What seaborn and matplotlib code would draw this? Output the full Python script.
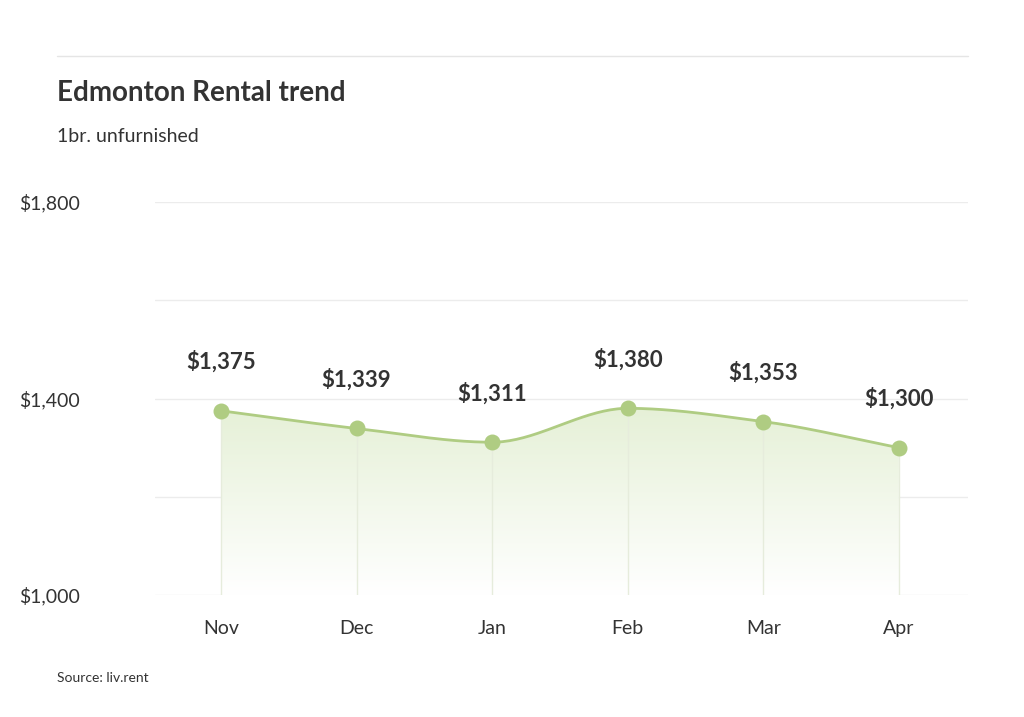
import numpy as np
import matplotlib
matplotlib.use("Agg")
import matplotlib.pyplot as plt
import seaborn as sns
from matplotlib.colors import LinearSegmentedColormap

months = ["Nov", "Dec", "Jan", "Feb", "Mar", "Apr"]
rents = [1375, 1339, 1311, 1380, 1353, 1300]
yticks = [1000, 1400, 1800]
ytick_labels = ["$1,000", "$1,400", "$1,800"]

sns.set_style("white")
plt.rcParams["font.family"] = ["Lato", "Open Sans", "DejaVu Sans"]
fig = plt.figure(figsize=(10.24, 7.17), dpi=100)
ax = fig.add_axes([155/1024, 1-595/717, 813/1024, 393/717])

x = np.arange(len(months), dtype=float)
y = np.array(rents, dtype=float)

# monotone cubic (Fritsch-Carlson) smoothing for the curve
d = np.diff(y) / np.diff(x)
m = np.zeros_like(y)
m[0], m[-1] = d[0], d[-1]
for i in range(1, len(y)-1):
    m[i] = 0 if d[i-1]*d[i] <= 0 else 2/(1/d[i-1]+1/d[i])
xs, ys = [], []
for i in range(len(y)-1):
    t = np.linspace(0, 1, 40)
    h00 = 2*t**3-3*t**2+1; h10 = t**3-2*t**2+t; h01 = -2*t**3+3*t**2; h11 = t**3-t**2
    xs.append(x[i]+t); ys.append(h00*y[i]+h10*m[i]+h01*y[i+1]+h11*m[i+1])
xs = np.concatenate(xs); ys = np.concatenate(ys)

green = "#afcc82"
for yy in [1000, 1200, 1400, 1600, 1800]:
    ax.axhline(yy, color="#ececec", lw=1, zorder=0)
for xi, yi in zip(x, y):
    ax.plot([xi, xi], [1000, yi], color="#e6ecdc", lw=1, zorder=2)

poly = ax.fill_between(xs, 1000, ys, color="none")
cmap = LinearSegmentedColormap.from_list("g", ["#ffffff", "#e5f0d6"])
grad = np.linspace(0, 1, 256).reshape(-1, 1)
im = ax.imshow(grad, extent=[x[0], x[-1], 1000, 1390], origin="lower",
               aspect="auto", cmap=cmap, zorder=1)
im.set_clip_path(poly.get_paths()[0], transform=ax.transData)

sns.lineplot(x=xs, y=ys, ax=ax, color=green, lw=2, zorder=3)
ax.scatter(x, y, s=110, color=green, zorder=4)
for xi, yi in zip(x, y):
    ax.annotate(f"${int(yi):,}", (xi, yi), xytext=(0, 30), textcoords="offset points",
                ha="center", fontsize=16, fontweight="bold", color="#333333")

ax.set_xlim(-0.487, 5.51)
ax.set_ylim(1000, 1800)
ax.set_xticks(x, months)
ax.set_yticks(yticks, ytick_labels)
ax.tick_params(axis="both", length=0, labelsize=14, colors="#333333")
ax.tick_params(axis="y", pad=98)
for lab in ax.get_yticklabels():
    lab.set_horizontalalignment("left")
ax.tick_params(axis="x", pad=18)
for s in ax.spines.values():
    s.set_visible(False)

fig.add_artist(plt.Line2D([57/1024, 968/1024], [1-56/717]*2, color="#e5e5e5", lw=1))
fig.text(57/1024, 1-93/717, "Edmonton Rental trend", fontsize=20, fontweight="bold",
         color="#333333", va="center")
fig.text(57/1024, 1-136/717, "1br. unfurnished", fontsize=14, color="#333333", va="center")
fig.text(57/1024, 1-678/717, "Source: liv.rent", fontsize=10, color="#333333", va="center")
fig.savefig("out.png", dpi=100)
